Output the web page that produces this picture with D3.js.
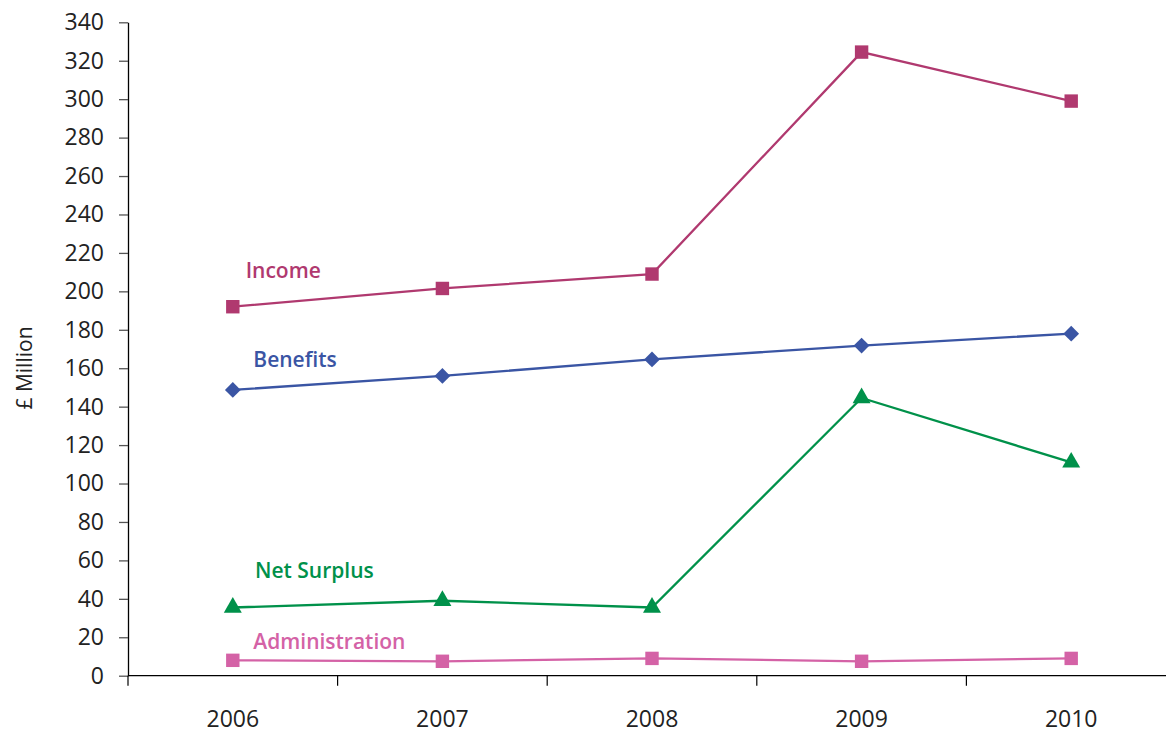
<!DOCTYPE html>
<html>
<head>
<meta charset="utf-8">
<script src="https://cdn.jsdelivr.net/npm/d3@7"></script>
<style>
  html, body { margin: 0; padding: 0; background: #fff; }
  svg { display: block; }
  text { font-family: "Open Sans", "Noto Sans", sans-serif; }
</style>
</head>
<body>
<svg id="chart" width="1166" height="733"></svg>
<script>
const years = ["2006", "2007", "2008", "2009", "2010"];
const income = [192, 201.5, 209, 324.5, 299];
const benefits = [148.7, 156, 164.6, 171.8, 178];
const netSurplus = [35.5, 39, 35.5, 144.5, 111];
const administration = [8, 7.5, 9, 7.5, 9];
const yTicks = [0, 20, 40, 60, 80, 100, 120, 140, 160, 180, 200, 220, 240, 260, 280, 300, 320, 340];
const yTitle = "£ Million";

const series = [
  { name: "Income", values: income, color: "#b0396f", symbol: d3.symbolSquare, size: 180, rot: 0, label: [245.7, 278.3] },
  { name: "Benefits", values: benefits, color: "#3a55a4", symbol: d3.symbolSquare, size: 124, rot: 45, label: [253.3, 366.7] },
  { name: "Net Surplus", values: netSurplus, color: "#00914a", symbol: d3.symbolTriangle, size: 140, rot: 0, label: [255, 578.3] },
  { name: "Administration", values: administration, color: "#d462a6", symbol: d3.symbolSquare, size: 180, rot: 0, label: [253.3, 649.3] }
];

const svg = d3.select("#chart");
const mLeft = 128, mRight = 1176, mTop = 22.3, mBottom = 675.7;

const x = d3.scaleBand().domain(years).range([mLeft, mRight]).padding(0);
const y = d3.scaleLinear().domain([0, 340]).range([mBottom, mTop]);

// Y axis
const yAxis = svg.append("g").attr("transform", `translate(${mLeft},0)`)
  .call(d3.axisLeft(y).tickValues(yTicks).tickSize(9).tickPadding(15).tickSizeOuter(0));
yAxis.select(".domain").attr("stroke", "#000").attr("stroke-width", 1.3);
yAxis.selectAll(".tick line").attr("stroke", "#555").attr("stroke-width", 1.3);
yAxis.selectAll(".tick text").attr("font-size", 23).attr("font-weight", 400).attr("fill", "#222")
  .attr("font-family", "'Open Sans', sans-serif");

// X axis
const xAxis = svg.append("g").attr("transform", `translate(0,${mBottom})`);
xAxis.append("line").attr("x1", mLeft).attr("x2", 1166).attr("y1", 0).attr("y2", 0)
  .attr("stroke", "#000").attr("stroke-width", 1.3);
xAxis.selectAll("line.tk").data(years).join("line").attr("class", "tk")
  .attr("x1", d => x(d)).attr("x2", d => x(d)).attr("y1", 0).attr("y2", 10)
  .attr("stroke", "#000").attr("stroke-width", 1.2);
xAxis.selectAll("text").data(years).join("text")
  .attr("x", d => x(d) + x.bandwidth() / 2).attr("y", 51)
  .attr("text-anchor", "middle").attr("font-size", 23).attr("font-weight", 400)
  .attr("fill", "#222").text(d => d);

// Y title
svg.append("text").attr("transform", `translate(32,368) rotate(-90)`)
  .attr("text-anchor", "middle").attr("font-size", 21).attr("font-weight", 400)
  .attr("fill", "#222").text(yTitle);

const line = d3.line().x((d, i) => x(years[i]) + x.bandwidth() / 2).y(d => y(d));

series.forEach(s => {
  const g = svg.append("g");
  g.append("path").datum(s.values).attr("d", line)
    .attr("fill", "none").attr("stroke", s.color).attr("stroke-width", 2.3);
  g.selectAll("path.m").data(s.values).join("path").attr("class", "m")
    .attr("transform", (d, i) => `translate(${x(years[i]) + x.bandwidth() / 2},${y(d)}) rotate(${s.rot})`)
    .attr("d", d3.symbol().type(s.symbol).size(s.size)).attr("fill", s.color);
  g.append("text").attr("x", s.label[0]).attr("y", s.label[1])
    .attr("font-size", 21).attr("font-weight", 600).attr("fill", s.color).text(s.name);
});
</script>
</body>
</html>
